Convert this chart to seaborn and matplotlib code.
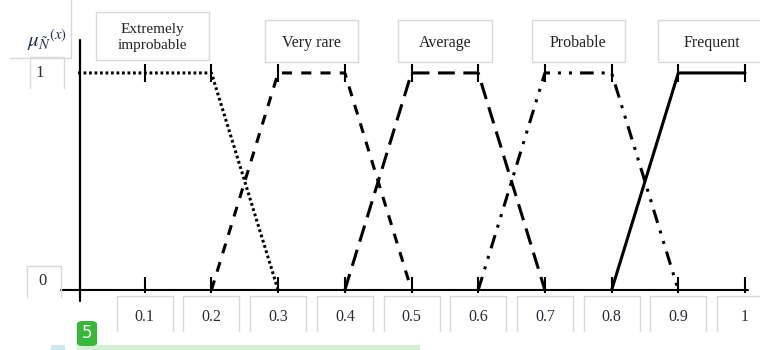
import numpy as np
import pandas as pd
import matplotlib.pyplot as plt
from matplotlib.patches import Rectangle, FancyBboxPatch
import seaborn as sns

# Fuzzy membership functions (trapezoids)
labels = ['Extremely\nimprobable', 'Very rare', 'Average', 'Probable', 'Frequent']
x_pts = [[0.0, 0.2, 0.3],
         [0.2, 0.3, 0.4, 0.5],
         [0.4, 0.5, 0.6, 0.7],
         [0.6, 0.7, 0.8, 0.9],
         [0.8, 0.9, 1.0]]
mu_pts = [[1, 1, 0],
          [0, 1, 1, 0],
          [0, 1, 1, 0],
          [0, 1, 1, 0],
          [0, 1, 1]]
x_ticks = [0.1, 0.2, 0.3, 0.4, 0.5, 0.6, 0.7, 0.8, 0.9, 1.0]
x_tick_labels = ['0.1', '0.2', '0.3', '0.4', '0.5', '0.6', '0.7', '0.8', '0.9', '1']

rows = []
for lab, xs, ms in zip(labels, x_pts, mu_pts):
    for xv, mv in zip(xs, ms):
        rows.append({'series': lab, 'x': xv, 'mu': mv})
df = pd.DataFrame(rows)

sns.set_theme(style='white')
plt.rcParams['font.family'] = ['Liberation Serif', 'DejaVu Serif']
plt.rcParams['mathtext.fontset'] = 'stix'

fig = plt.figure(figsize=(7.6, 3.5), dpi=100)
ax = fig.add_axes([0, 0, 1, 1])
ax.set_xlim(-0.117, 1.0225)
ax.set_ylim(-0.276, 1.336)
ax.axis('off')

dashes = {
    'Extremely\nimprobable': (0.9, 0.9),
    'Very rare': (3.3, 3.0),
    'Average': (5.5, 2.8),
    'Probable': (4.5, 2.6, 1.0, 2.6, 1.0, 2.6),
    'Frequent': '',
}
sns.lineplot(data=df, x='x', y='mu', style='series', dashes=dashes,
             color='black', linewidth=2.2, estimator=None, sort=False,
             legend=False, ax=ax)

# axes drawn by hand (crossing at origin)
ax.plot([-0.025, 1.005], [0, 0], color='black', lw=1.5)
ax.plot([0.003, 0.003], [-0.05, 1.15], color='black', lw=1.6)

# small tick marks on the 0 and 1 levels
ax.vlines(x_ticks, -0.014, 0.06, color='black', lw=1.5)
ax.vlines(x_ticks, 0.96, 1.04, color='black', lw=1.5)

box_ec = '#d9d9d9'
txt_c = '#2a2a35'


def open_box(x0, y0, w, h):
    # left, top and right sides only
    ax.plot([x0, x0, x0 + w, x0 + w], [y0, y0 + h, y0 + h, y0], color=box_ec, lw=1)


# x tick labels in boxes
for xt, lab in zip(x_ticks, x_tick_labels):
    open_box(xt - 0.042, -0.19, 0.084, 0.165)
    ax.text(xt, -0.125, lab, ha='center', va='center', fontsize=11.5, color=txt_c)

# series labels in boxes above the plateaus
for lab, xs, ms in zip(labels, x_pts, mu_pts):
    top = [xv for xv, mv in zip(xs, ms) if mv == 1]
    cx = (min(top) + max(top)) / 2
    if lab.startswith('Extremely'):
        cx += 0.012
        ax.add_patch(Rectangle((cx - 0.085, 1.06), 0.17, 0.22,
                               fill=False, ec=box_ec, lw=1))
        ax.text(cx, 1.165, lab, ha='center', va='center', fontsize=11,
                color='#222222', linespacing=1.3)
    else:
        w = 0.14 if lab != 'Frequent' else 0.16
        ax.add_patch(Rectangle((cx - w / 2, 1.05), w, 0.195,
                               fill=False, ec=box_ec, lw=1))
        ax.text(cx, 1.14, lab, ha='center', va='center', fontsize=11.5,
                color='#222222')

# y labels
open_box(-0.072, 0.93, 0.051, 0.145)
ax.text(-0.057, 1.0, '1', ha='center', va='center', fontsize=12, color=txt_c)
open_box(-0.076, -0.032, 0.051, 0.145)
ax.text(-0.054, 0.04, '0', ha='center', va='center', fontsize=12, color=txt_c)
ax.plot([-0.102, -0.01], [1.07, 1.07], color=box_ec, lw=1)
ax.plot([-0.01, -0.01], [1.07, 1.336], color=box_ec, lw=1)
ax.text(-0.047, 1.15, r'$\mu_{\tilde{N}}{}^{(x)}$', ha='center', va='center',
        fontsize=15, color='#1f2a55')

# page artefacts along the bottom
fig.patches.append(Rectangle((51 / 760, 0), 14 / 760, 5 / 350, transform=fig.transFigure,
                             fc='#cfe8f0', ec='none'))
fig.patches.append(Rectangle((77 / 760, 0), 343 / 760, 5 / 350, transform=fig.transFigure,
                             fc='#d3f0d3', ec='none'))
fig.patches.append(FancyBboxPatch((77 / 760, 1 - 346 / 350), 20 / 760, 25 / 350,
                                  boxstyle='round,pad=0,rounding_size=0.008',
                                  transform=fig.transFigure, fc='#38b838', ec='none'))
fig.text(87 / 760, 1 - 333 / 350, '5', ha='center', va='center', color='white',
         fontsize=12, family='DejaVu Sans')

fig.savefig('out.png', dpi=100)
